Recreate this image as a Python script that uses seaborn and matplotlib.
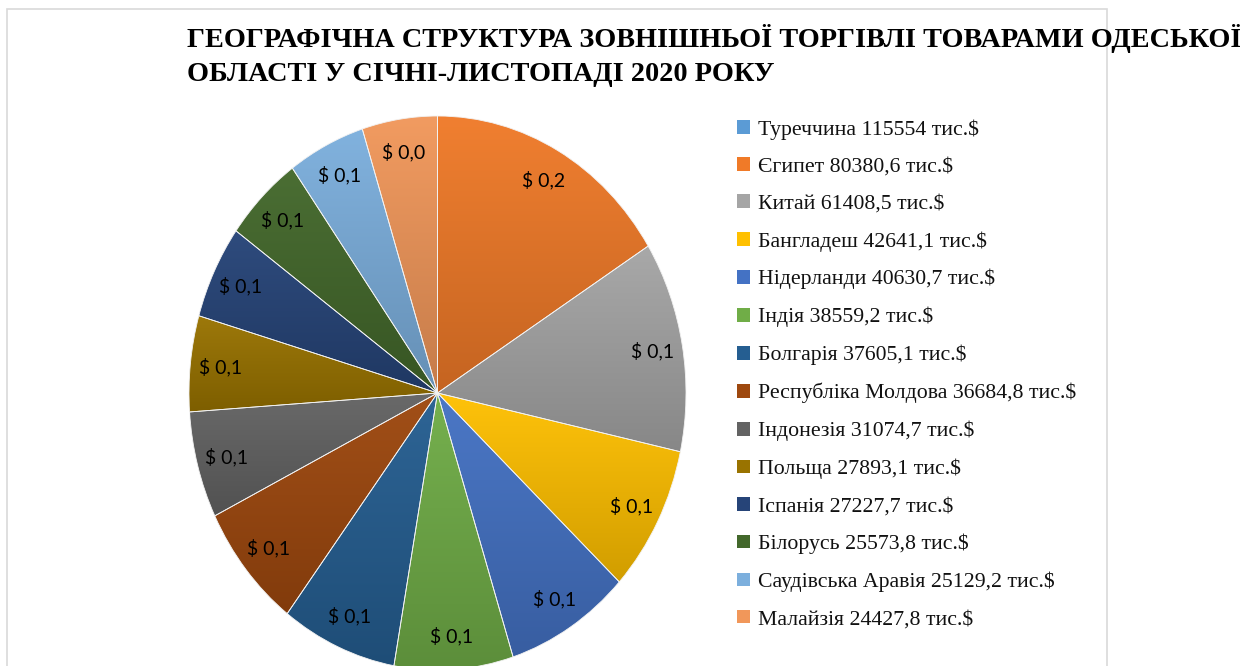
import matplotlib
matplotlib.use("Agg")
import numpy as np
import matplotlib.pyplot as plt
from matplotlib.patches import Patch, Rectangle
from matplotlib.colors import LinearSegmentedColormap, to_rgb
import seaborn as sns

# data (тис. $)
countries = ["Туреччина", "Єгипет", "Китай", "Бангладеш", "Нідерланди", "Індія",
             "Болгарія", "Республіка Молдова", "Індонезія", "Польща", "Іспанія",
             "Білорусь", "Саудівська Аравія", "Малайзія"]
values = [115554, 80380.6, 61408.5, 42641.1, 40630.7, 38559.2, 37605.1,
          36684.8, 31074.7, 27893.1, 27227.7, 25573.8, 25129.2, 24427.8]
value_labels = ["115554", "80380,6", "61408,5", "42641,1", "40630,7", "38559,2",
                "37605,1", "36684,8", "31074,7", "27893,1", "27227,7", "25573,8",
                "25129,2", "24427,8"]
# the first row (Туреччина) is shown in the legend only, not in the pie
pie_values = values[1:]

colors = ["#5B9BD5", "#F07A28", "#A5A5A5", "#FFC000", "#4472C4", "#70AD47",
          "#255E91", "#9E480E", "#636363", "#997300", "#264478", "#43682B",
          "#7CAFDD", "#F1975A"]

sns.set_theme(style="white")
plt.rcParams["font.family"] = ["Liberation Serif", "DejaVu Serif"]

W, H = 1240, 666
fig = plt.figure(figsize=(W / 100, H / 100), dpi=100)

# chart frame
fig.patches.append(Rectangle((7 / W, -0.1), 1100 / W, 1.1 - 9 / H, transform=fig.transFigure,
                             fill=False, edgecolor="#d9d9d9", linewidth=1.2))


def shade(c, f):
    r, g, b = to_rgb(c)
    if f >= 1:
        return tuple(min(1, v + (1 - v) * (f - 1)) for v in (r, g, b))
    return tuple(v * f for v in (r, g, b))


# pie (slightly stretched vertically, as in the original)
cx, cy, rx, ry = 437.5, 393, 248.5, 277
ax = fig.add_axes([(cx - rx) / W, (H - cy - ry) / H, 2 * rx / W, 2 * ry / H])
wedges, texts, autotexts = ax.pie(
    pie_values, colors=colors[1:], startangle=90, counterclock=False,
    autopct=lambda p: "$ " + f"{p / 100:.1f}".replace(".", ","),
    pctdistance=0.88, wedgeprops=dict(edgecolor="#f2f2f2", linewidth=0.6),
    textprops=dict(fontsize=14, color="#000000", family=["Lato", "DejaVu Sans"]))

# vertical gradient fill like the Office style
grad = np.linspace(0, 1, 256).reshape(-1, 1)
for w, c in zip(wedges, colors[1:]):
    x0, y0, x1, y1 = w.get_path().get_extents().extents
    cmap = LinearSegmentedColormap.from_list("g", [shade(c, 0.82), shade(c, 1.04)])
    im = ax.imshow(grad, cmap=cmap, extent=[x0, x1, y0, y1], origin="lower",
                   aspect="auto", zorder=1, interpolation="bilinear")
    im.set_clip_path(w)
    w.set_facecolor("none")
    w.set_zorder(2)
for t in autotexts:
    t.set_zorder(5)

ax.set_aspect("auto")
ax.set_xlim(-1, 1)
ax.set_ylim(-1, 1)
ax.axis("off")

# title
fig.text(187 / W, 1 - 47 / H, "ГЕОГРАФІЧНА СТРУКТУРА ЗОВНІШНЬОЇ ТОРГІВЛІ ТОВАРАМИ ОДЕСЬКОЇ",
         fontsize=20.3, fontweight="bold", va="baseline", ha="left", color="#000000")
fig.text(187 / W, 1 - 81 / H, "ОБЛАСТІ У СІЧНІ-ЛИСТОПАДІ 2020 РОКУ",
         fontsize=20.3, fontweight="bold", va="baseline", ha="left", color="#000000")

# legend
handles = [Patch(facecolor=c, edgecolor="none") for c in colors]
labels = [f"{n} {v} тис.$" for n, v in zip(countries, value_labels)]
leg = fig.legend(handles, labels, loc="upper left", bbox_to_anchor=(737 / W, 1 - 119 / H),
                 frameon=False, fontsize=15.7, handlelength=0.6, handleheight=0.6,
                 handletextpad=0.38, labelspacing=0.80, borderaxespad=0, borderpad=0)
for t in leg.get_texts():
    t.set_color("#111111")

fig.savefig("out.png", dpi=100)
